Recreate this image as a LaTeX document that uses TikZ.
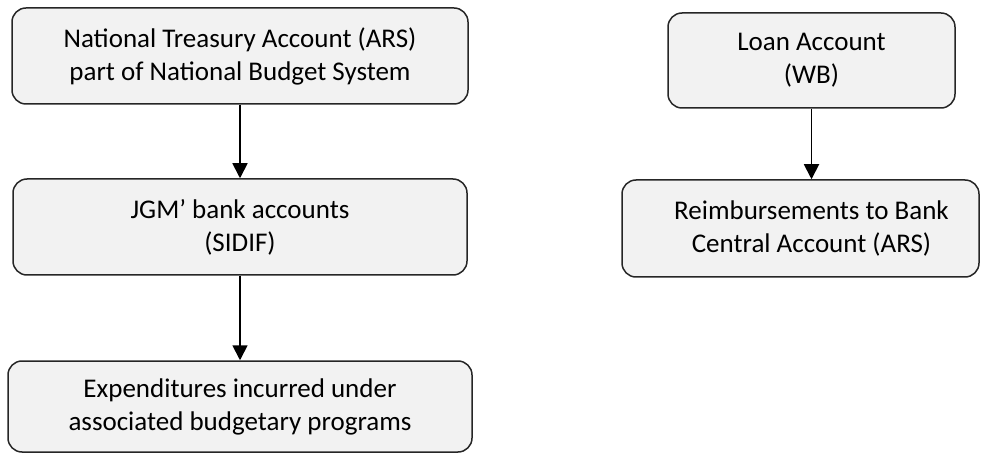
\documentclass[tikz,border=0pt]{standalone}
\usepackage{fontspec}
\setmainfont{Carlito}
\usetikzlibrary{arrows.meta}
\definecolor{boxfill}{HTML}{F2F2F2}
\definecolor{boxline}{HTML}{262626}
\begin{document}
\begin{tikzpicture}[x=1pt,y=1pt,
  box/.style={draw=boxline, line width=1.5pt, fill=boxfill, rounded corners=14pt,
    align=center, inner sep=0pt, font=\fontsize{27}{33}\selectfont, text=black},
  boxtext/.style={align=center, inner sep=0pt, font=\fontsize{27}{33}\selectfont, text=black},
  flow/.style={line width=1.8pt, draw=black, -{Triangle[width=15pt,length=15pt]}}]
\useasboundingbox (0,0) rectangle (993,-454);
\node[box, minimum width=456pt, minimum height=96pt] (b1) at (240,-56)
  {National Treasury Account (ARS)\\part of National Budget System};
\node[box, minimum width=454pt, minimum height=96pt] (b2) at (240,-227)
  {JGM’ bank accounts\\(SIDIF)};
\node[box, minimum width=464pt, minimum height=91pt] (b3) at (240,-406.5)
  {Expenditures incurred under\\associated budgetary programs};
\node[box, minimum width=287pt, minimum height=95pt] (b4) at (811.5,-60.5)
  {Loan Account\\(WB)};
\node[box, minimum width=357pt, minimum height=97pt] (b5) at (800.5,-228.5) {};
\node[boxtext] (t5) at ([xshift=11pt]b5.center)
  {Reimbursements to Bank\\Central Account (ARS)};
\draw[flow] (b1.south) -- (b2.north);
\draw[flow] (b2.south) -- (b3.north);
\draw[flow] (b4.south) -- (b4.south |- b5.north);
\end{tikzpicture}
\end{document}
